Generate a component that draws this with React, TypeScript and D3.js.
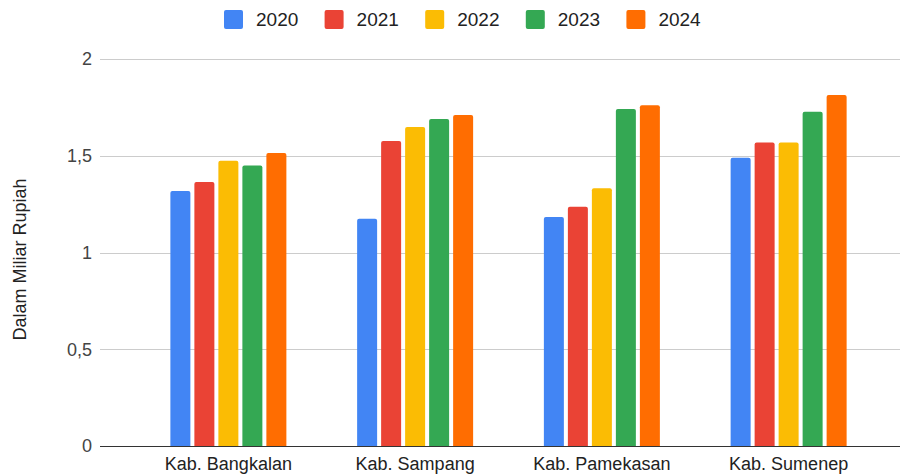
import { useEffect, useRef } from 'react';
import * as d3 from 'd3';

const categories = ['Kab. Bangkalan', 'Kab. Sampang', 'Kab. Pamekasan', 'Kab. Sumenep'];
const years = ['2020', '2021', '2022', '2023', '2024'];
const colors = ['#4285F4', '#EA4335', '#FBBC04', '#34A853', '#FF6D01'];

// values per year, one entry per category
const v2020 = [1.318, 1.175, 1.183, 1.49];
const v2021 = [1.364, 1.576, 1.237, 1.569];
const v2022 = [1.474, 1.649, 1.332, 1.569];
const v2023 = [1.45, 1.69, 1.742, 1.728];
const v2024 = [1.514, 1.71, 1.761, 1.814];
const series = [v2020, v2021, v2022, v2023, v2024];

const yTicks = [0, 0.5, 1, 1.5, 2];
const yTickLabels = ['0', '0,5', '1', '1,5', '2'];

const font = "'Liberation Sans', Arial, sans-serif";

export default function App() {
  const ref = useRef<SVGSVGElement | null>(null);

  useEffect(() => {
    if (!ref.current) return;
    const svg = d3.select(ref.current);
    svg.selectAll('*').remove();

    const gridLeft = 100;
    const gridRight = 900;

    const x = d3.scaleBand<string>().domain(categories).range([135, 882]);
    const xi = d3.scaleBand<string>().domain(years).range([-58, 58]).paddingInner(0.1667);
    const y = d3.scaleLinear().domain([0, 2]).range([446, 59]);

    // gridlines
    svg
      .append('g')
      .selectAll('line')
      .data(yTicks.slice(1))
      .join('line')
      .attr('x1', gridLeft)
      .attr('x2', gridRight)
      .attr('y1', d => Math.round(y(d)) + 0.5)
      .attr('y2', d => Math.round(y(d)) + 0.5)
      .attr('stroke', '#cccccc')
      .attr('stroke-width', 1);

    // y tick labels
    svg
      .append('g')
      .selectAll('text')
      .data(yTicks)
      .join('text')
      .attr('x', 92)
      .attr('y', d => y(d))
      .attr('dy', '0.35em')
      .attr('text-anchor', 'end')
      .attr('font-family', font)
      .attr('font-size', 18)
      .attr('fill', '#444')
      .text((_, i) => yTickLabels[i]);

    // y axis title
    svg
      .append('text')
      .attr('transform', `translate(26,${(y(0) + y(2)) / 2 + 7}) rotate(-90)`)
      .attr('text-anchor', 'middle')
      .attr('font-family', font)
      .attr('font-size', 18)
      .attr('fill', '#222')
      .text('Dalam Miliar Rupiah');

    // bars, slightly rounded top corners
    const r = 2;
    const barPath = (x0: number, w: number, y0: number, y1: number) =>
      `M${x0},${y1}V${y0 + r}Q${x0},${y0} ${x0 + r},${y0}H${x0 + w - r}Q${x0 + w},${y0} ${x0 + w},${y0 + r}V${y1}Z`;

    const groups = svg
      .append('g')
      .selectAll('g')
      .data(categories)
      .join('g')
      .attr('transform', d => `translate(${(x(d) ?? 0) + x.bandwidth() / 2},0)`);

    groups
      .selectAll('path')
      .data((_, ci) => years.map((yr, si) => ({ yr, si, v: series[si][ci] })))
      .join('path')
      .attr('d', d => barPath(xi(d.yr) ?? 0, xi.bandwidth(), y(d.v), y(0)))
      .attr('fill', d => colors[d.si]);

    // baseline
    svg
      .append('line')
      .attr('x1', gridLeft)
      .attr('x2', gridRight)
      .attr('y1', y(0) + 0.5)
      .attr('y2', y(0) + 0.5)
      .attr('stroke', '#333')
      .attr('stroke-width', 1);

    // category labels
    svg
      .append('g')
      .selectAll('text')
      .data(categories)
      .join('text')
      .attr('x', d => (x(d) ?? 0) + x.bandwidth() / 2)
      .attr('y', 470)
      .attr('text-anchor', 'middle')
      .attr('font-family', font)
      .attr('font-size', 18)
      .attr('fill', '#222')
      .text(d => d);

    // legend
    const legend = svg
      .append('g')
      .selectAll('g')
      .data(years)
      .join('g')
      .attr('transform', (_, i) => `translate(${224 + i * 100.6},10)`);
    legend
      .append('rect')
      .attr('width', 19)
      .attr('height', 19)
      .attr('rx', 2)
      .attr('fill', (_, i) => colors[i]);
    legend
      .append('text')
      .attr('x', 32)
      .attr('y', 9.5)
      .attr('dy', '0.35em')
      .attr('font-family', font)
      .attr('font-size', 19)
      .attr('fill', '#222')
      .text(d => d);
  }, []);

  return (
    <svg
      ref={ref}
      width={901}
      height={475}
      style={{ position: 'absolute', left: 0, top: 0, background: '#fff' }}
    />
  );
}
